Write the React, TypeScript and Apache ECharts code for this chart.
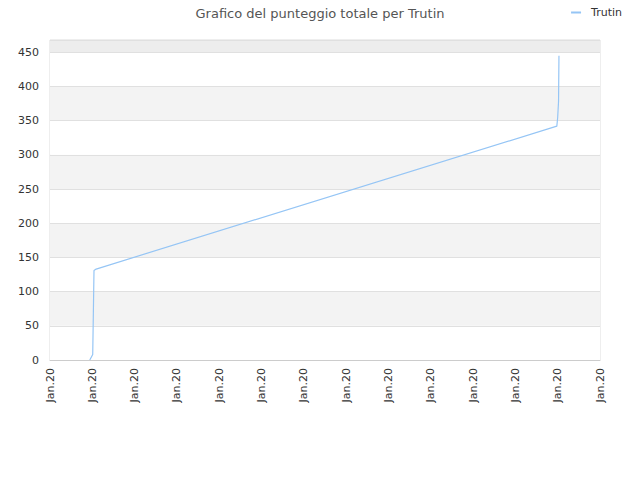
import { useEffect, useRef } from 'react'
import * as echarts from 'echarts'

// punti della serie: [posizione asse x, punteggio]
const xPositions = [0.94, 1.01, 1.04, 1.09, 11.98, 12.0, 12.02, 12.03]
const scores = [0, 8, 131, 133, 342, 355, 378, 445]
const xTickLabel = 'Jan.20'
const seriesName = 'Trutin'
const title = 'Grafico del punteggio totale per Trutin'

const App: React.FC = () => {
  const chartRef = useRef<HTMLDivElement>(null)

  useEffect(() => {
    if (chartRef.current === null) return
    const chart = echarts.init(chartRef.current, null, { renderer: 'svg' })
    const font = 'DejaVu Sans, sans-serif'
    chart.setOption({
      animation: false,
      textStyle: { fontFamily: font },
      title: {
        text: title,
        left: 'center',
        top: 2,
        textStyle: { fontSize: 13, fontWeight: 'normal', color: '#555', fontFamily: font }
      },
      legend: {
        right: 13,
        top: 2,
        icon: 'rect',
        itemWidth: 10,
        itemHeight: 2,
        textStyle: { fontSize: 11, color: '#333', fontFamily: font, padding: [0, 0, 0, 5] },
        data: [seriesName]
      },
      grid: {
        left: 50,
        right: 40,
        top: 40,
        bottom: 120,
        show: true,
        borderColor: '#ddd',
        borderWidth: 1,
        backgroundColor: 'transparent'
      },
      xAxis: {
        type: 'value',
        min: 0,
        max: 13,
        interval: 1,
        axisLine: { show: true, lineStyle: { color: '#ccc' } },
        axisTick: { show: false },
        splitLine: { show: false },
        axisLabel: {
          rotate: 90,
          fontSize: 11,
          color: '#333',
          margin: 8,
          formatter: () => xTickLabel
        }
      },
      yAxis: {
        type: 'value',
        min: 0,
        max: 468,
        interval: 50,
        axisLine: { show: false },
        axisTick: { show: false },
        axisLabel: { fontSize: 11, color: '#333', margin: 11, showMaxLabel: false },
        splitLine: { show: true, lineStyle: { color: '#e0e0e0' } },
        splitArea: {
          show: true,
          areaStyle: {
            color: ['#ffffff', '#f3f3f3', '#ffffff', '#f3f3f3', '#ffffff', '#f3f3f3', '#ffffff', '#f3f3f3', '#ffffff', '#ededed']
          }
        }
      },
      series: [
        {
          name: seriesName,
          type: 'line',
          data: xPositions.map((x, i) => [x, scores[i]]),
          showSymbol: false,
          symbol: 'none',
          lineStyle: { color: '#95c5f5', width: 1.2 },
          itemStyle: { color: '#95c5f5' }
        }
      ]
    })
    return () => {
      chart.dispose()
    }
  }, [])

  return <div ref={chartRef} style={{ width: 640, height: 480, margin: -8 }}></div>
}

export default App
